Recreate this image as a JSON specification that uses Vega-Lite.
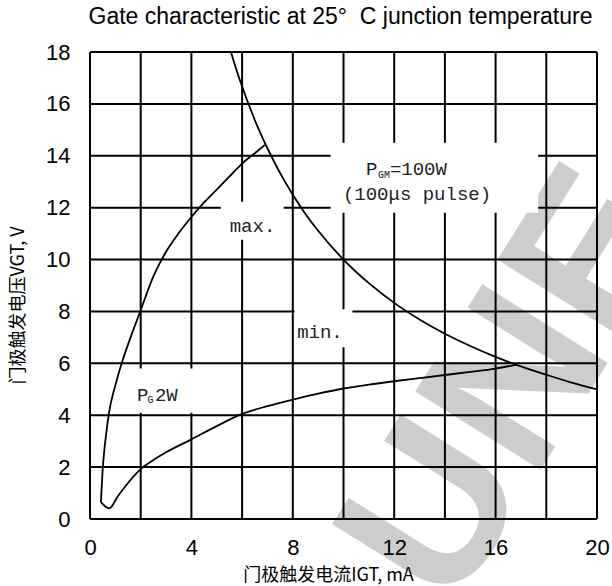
{
  "$schema": "https://vega.github.io/schema/vega-lite/v6.json",
  "width": 507,
  "height": 467,
  "autosize": {"type": "none"},
  "padding": {"left": 90, "top": 52, "right": 15, "bottom": 67},
  "background": "white",
  "config": {"view": {"stroke": null}},
  "title": {
    "text": "Gate characteristic at 25°\u00a0\u00a0C junction temperature",
    "font": "Liberation Sans",
    "fontSize": 23,
    "fontWeight": "normal",
    "color": "black",
    "anchor": "middle",
    "frame": "group",
    "baseline": "alphabetic",
    "offset": -6,
    "dx": -3
  },
  "datasets": {
    "gridx": [{"v": 0}, {"v": 2}, {"v": 4}, {"v": 6}, {"v": 8}, {"v": 10}, {"v": 12}, {"v": 14}, {"v": 16}, {"v": 18}, {"v": 20}],
    "gridy": [{"v": 0}, {"v": 2}, {"v": 4}, {"v": 6}, {"v": 8}, {"v": 10}, {"v": 12}, {"v": 14}, {"v": 16}, {"v": 18}],
    "boxes": [
      {"x": 9.49, "x2": 17.68, "y": 11.8, "y2": 14.5},
      {"x": 5.16, "x2": 7.64, "y": 10.76, "y2": 12.23},
      {"x": 8.07, "x2": 10.35, "y": 6.62, "y2": 8.08},
      {"x": 1.7, "x2": 4.07, "y": 4.1, "y2": 5.8}
    ],
    "watermark": [{"x": 16.8, "y": 5.1, "t": "UNE"}],
    "curves": [
      {"curve": "max", "x": 0.43, "y": 0.65},
      {"curve": "max", "x": 0.46, "y": 1.2},
      {"curve": "max", "x": 0.5, "y": 1.9},
      {"curve": "max", "x": 0.56, "y": 2.6},
      {"curve": "max", "x": 0.64, "y": 3.3},
      {"curve": "max", "x": 0.75, "y": 4.1},
      {"curve": "max", "x": 1.0, "y": 5.15},
      {"curve": "max", "x": 1.25, "y": 6.0},
      {"curve": "max", "x": 1.6, "y": 7.0},
      {"curve": "max", "x": 2.0, "y": 8.05},
      {"curve": "max", "x": 2.5, "y": 9.35},
      {"curve": "max", "x": 3.0, "y": 10.3},
      {"curve": "max", "x": 3.5, "y": 11.02},
      {"curve": "max", "x": 4.0, "y": 11.64},
      {"curve": "max", "x": 4.5, "y": 12.2},
      {"curve": "max", "x": 5.0, "y": 12.7},
      {"curve": "max", "x": 5.5, "y": 13.2},
      {"curve": "max", "x": 6.0, "y": 13.7},
      {"curve": "max", "x": 6.5, "y": 14.1},
      {"curve": "max", "x": 6.9, "y": 14.42},
      {"curve": "min", "x": 0.43, "y": 0.65},
      {"curve": "min", "x": 0.76, "y": 0.41},
      {"curve": "min", "x": 1.1, "y": 0.88},
      {"curve": "min", "x": 1.45, "y": 1.33},
      {"curve": "min", "x": 2.0, "y": 1.92},
      {"curve": "min", "x": 2.5, "y": 2.27},
      {"curve": "min", "x": 3.0, "y": 2.57},
      {"curve": "min", "x": 4.0, "y": 3.07},
      {"curve": "min", "x": 5.0, "y": 3.58},
      {"curve": "min", "x": 6.0, "y": 4.05},
      {"curve": "min", "x": 7.0, "y": 4.35},
      {"curve": "min", "x": 8.0, "y": 4.6},
      {"curve": "min", "x": 9.0, "y": 4.83},
      {"curve": "min", "x": 10.0, "y": 5.03},
      {"curve": "min", "x": 11.0, "y": 5.18},
      {"curve": "min", "x": 12.0, "y": 5.31},
      {"curve": "min", "x": 13.0, "y": 5.43},
      {"curve": "min", "x": 14.0, "y": 5.55},
      {"curve": "min", "x": 15.0, "y": 5.67},
      {"curve": "min", "x": 16.0, "y": 5.8},
      {"curve": "min", "x": 16.8, "y": 5.94},
      {"curve": "pgm", "x": 5.56, "y": 18.0},
      {"curve": "pgm", "x": 5.8, "y": 17.24},
      {"curve": "pgm", "x": 6.0, "y": 16.67},
      {"curve": "pgm", "x": 6.5, "y": 15.38},
      {"curve": "pgm", "x": 7.0, "y": 14.29},
      {"curve": "pgm", "x": 7.5, "y": 13.33},
      {"curve": "pgm", "x": 8.0, "y": 12.5},
      {"curve": "pgm", "x": 8.5, "y": 11.76},
      {"curve": "pgm", "x": 9.0, "y": 11.11},
      {"curve": "pgm", "x": 10.0, "y": 10.0},
      {"curve": "pgm", "x": 11.0, "y": 9.09},
      {"curve": "pgm", "x": 12.0, "y": 8.33},
      {"curve": "pgm", "x": 13.0, "y": 7.69},
      {"curve": "pgm", "x": 14.0, "y": 7.14},
      {"curve": "pgm", "x": 15.0, "y": 6.67},
      {"curve": "pgm", "x": 16.0, "y": 6.25},
      {"curve": "pgm", "x": 17.0, "y": 5.88},
      {"curve": "pgm", "x": 18.0, "y": 5.56},
      {"curve": "pgm", "x": 19.0, "y": 5.26},
      {"curve": "pgm", "x": 20.0, "y": 5.0}
    ],
    "labelsLeft": [
      {"x": 10.89, "y": 13.26, "t": "P"},
      {"x": 11.83, "y": 13.26, "t": "=100W"},
      {"x": 1.85, "y": 4.56, "t": "P"},
      {"x": 2.56, "y": 4.56, "t": "2W"}
    ],
    "labelsCenter": [
      {"x": 12.9, "y": 12.3, "t": "(100μs pulse)"},
      {"x": 6.41, "y": 11.08, "t": "max."},
      {"x": 9.07, "y": 6.97, "t": "min."}
    ],
    "subs": [
      {"x": 11.36, "y": 13.15, "t": "GM"},
      {"x": 2.27, "y": 4.47, "t": "G"}
    ]
  },
  "layer": [
    {
      "data": {"name": "gridx"},
      "mark": {"type": "rule", "color": "black", "strokeWidth": 2, "opacity": 0},
      "encoding": {
        "x": {
          "field": "v", "type": "quantitative", "scale": {"domain": [0, 20], "nice": false},
          "axis": {
            "values": [0, 2, 4, 6, 8, 10, 12, 14, 16, 18, 20],
            "labelExpr": "datum.value % 4 === 0 ? datum.label : ''",
            "grid": false, "domain": false, "ticks": false, "tickSize": 0,
            "labelFlush": false, "labelOverlap": false,
            "labelFont": "Liberation Sans", "labelFontSize": 22, "labelColor": "black", "labelPadding": 18,
            "title": "门极触发电流IGT, mA",
            "titleFont": "Noto Sans CJK SC", "titleFontSize": 18, "titleFontWeight": "normal", "titleColor": "black",
            "titleX": 238, "titleY": 61, "titleAlign": "center", "titleBaseline": "alphabetic",
            "zindex": 2
          }
        },
        "y": {
          "datum": 0, "type": "quantitative", "scale": {"domain": [0, 18], "nice": false},
          "axis": {
            "values": [0, 2, 4, 6, 8, 10, 12, 14, 16, 18],
            "grid": false, "domain": false, "ticks": false, "tickSize": 0,
            "labelFlush": false, "labelOverlap": false,
            "labelFont": "Liberation Sans", "labelFontSize": 22, "labelColor": "black", "labelPadding": 20,
            "title": "门极触发电压VGT, V",
            "titleFont": "Noto Sans CJK SC", "titleFontSize": 18, "titleFontWeight": "normal", "titleColor": "black",
            "titleX": -72, "titleY": 253, "titleAlign": "center", "titleBaseline": "middle", "titleAngle": 270,
            "zindex": 2
          }
        }
      }
    },
    {
      "data": {"name": "watermark"},
      "mark": {"type": "text", "font": "Liberation Sans", "fontWeight": "bold", "fontSize": 215, "angle": -58, "color": "#cdcdcd", "align": "center", "baseline": "middle"},
      "encoding": {
        "x": {"field": "x", "type": "quantitative"},
        "y": {"field": "y", "type": "quantitative"},
        "text": {"field": "t"}
      }
    },
    {
      "data": {"name": "gridx"},
      "mark": {"type": "rule", "color": "black", "strokeWidth": 2},
      "encoding": {
        "x": {"field": "v", "type": "quantitative"}
      }
    },
    {
      "data": {"name": "gridy"},
      "mark": {"type": "rule", "color": "black", "strokeWidth": 2},
      "encoding": {
        "y": {"field": "v", "type": "quantitative"}
      }
    },
    {
      "data": {"name": "boxes"},
      "mark": {"type": "rect", "color": "white"},
      "encoding": {
        "x": {"field": "x", "type": "quantitative"},
        "x2": {"field": "x2"},
        "y": {"field": "y", "type": "quantitative"},
        "y2": {"field": "y2"}
      }
    },
    {
      "data": {"name": "curves"},
      "mark": {"type": "line", "color": "black", "strokeWidth": 1.8, "interpolate": "monotone"},
      "encoding": {
        "x": {"field": "x", "type": "quantitative"},
        "y": {"field": "y", "type": "quantitative"},
        "detail": {"field": "curve"}
      }
    },
    {
      "data": {"name": "labelsLeft"},
      "mark": {"type": "text", "font": "Liberation Mono", "fontSize": 19, "color": "#222", "align": "left", "baseline": "alphabetic"},
      "encoding": {
        "x": {"field": "x", "type": "quantitative"},
        "y": {"field": "y", "type": "quantitative"},
        "text": {"field": "t"}
      }
    },
    {
      "data": {"name": "labelsCenter"},
      "mark": {"type": "text", "font": "Liberation Mono", "fontSize": 19, "color": "#222", "align": "center", "baseline": "alphabetic"},
      "encoding": {
        "x": {"field": "x", "type": "quantitative"},
        "y": {"field": "y", "type": "quantitative"},
        "text": {"field": "t"}
      }
    },
    {
      "data": {"name": "subs"},
      "mark": {"type": "text", "font": "Liberation Mono", "fontSize": 10, "color": "#222", "align": "left", "baseline": "alphabetic"},
      "encoding": {
        "x": {"field": "x", "type": "quantitative"},
        "y": {"field": "y", "type": "quantitative"},
        "text": {"field": "t"}
      }
    }
  ]
}
